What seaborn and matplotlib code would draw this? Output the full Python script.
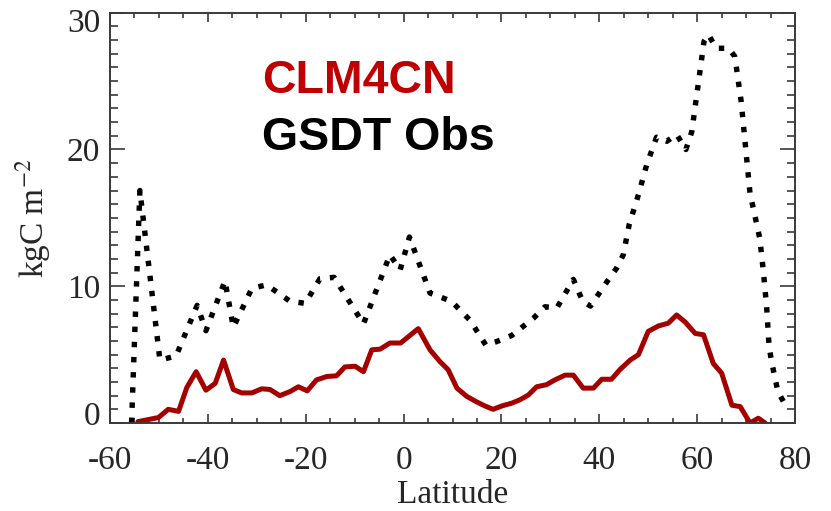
import matplotlib
matplotlib.use("Agg")
import matplotlib.pyplot as plt
import matplotlib.transforms as mtransforms
from matplotlib.ticker import MultipleLocator
import seaborn as sns

# CLM4CN model
model_lat = [-54.3, -52.2, -50.1, -48.1, -46.0, -44.3, -42.4, -40.4, -38.5, -36.8, -34.8,
             -33.1, -31.0, -29.0, -27.3, -25.3, -23.2, -21.5, -19.7, -17.8, -15.7, -13.7,
             -12.0, -9.9, -8.2, -6.5, -4.8, -2.8, -0.6, 3.0, 5.4, 7.4, 9.1, 10.9, 12.9,
             14.9, 16.6, 18.3, 20.1, 22.1, 23.8, 25.5, 27.2, 29.2, 30.9, 33.0, 34.7, 36.7,
             38.8, 40.5, 42.5, 44.2, 46.3, 48.0, 50.0, 52.1, 54.1, 55.8, 57.5, 59.6, 61.3,
             63.3, 65.0, 67.1, 68.8, 70.8, 72.5, 73.9]
model_val = [0.1, 0.25, 0.4, 1.0, 0.85, 2.6, 3.75, 2.4, 2.9, 4.6, 2.45,
             2.2, 2.2, 2.5, 2.45, 2.0, 2.3, 2.65, 2.35, 3.15, 3.4, 3.45,
             4.1, 4.15, 3.75, 5.35, 5.4, 5.85, 5.85, 6.9, 5.35, 4.5, 3.9, 2.55, 1.95,
             1.55, 1.25, 1.0, 1.25, 1.45, 1.7, 2.05, 2.65, 2.8, 3.15, 3.5, 3.5, 2.55,
             2.55, 3.2, 3.2, 3.9, 4.6, 5.0, 6.7, 7.1, 7.3, 7.9, 7.4, 6.55, 6.45,
             4.35, 3.65, 1.3, 1.2, 0.0, 0.35, 0.0]

# GSDT observations (black dotted curve)
obs_lat = [-55.6, -53.9, -49.8, -46.5, -42.2, -40.4, -36.5, -34.8, -31.0, -28.0, -23.2,
           -20.1, -17.1, -14.2, -8.2, -2.8, -0.7, 1.2, 5.4, 9.8, 13.6, 16.8, 19.0, 22.1,
           26.5, 28.9, 31.3, 34.7, 36.6, 38.2, 40.0, 41.7, 43.5, 44.9, 46.1, 48.0, 49.7,
           51.7, 53.8, 55.8, 57.7, 58.9, 61.4, 62.3, 63.9, 66.4, 67.7, 69.0, 70.8, 72.8,
           73.5, 74.2, 74.7, 75.2, 76.5, 78.5]
obs_val = [0.0, 17.0, 4.6, 4.9, 8.6, 6.75, 10.4, 7.0, 9.85, 10.1, 8.9,
           8.75, 10.55, 10.65, 7.25, 12.3, 11.2, 13.6, 9.5, 8.9, 7.5, 5.7, 5.95, 6.4,
           7.65, 8.5, 8.4, 10.5, 8.9, 8.55, 9.5, 10.4, 11.3, 12.3, 14.5, 16.7, 18.9,
           20.9, 20.6, 21.1, 20.0, 21.3, 27.9, 28.4, 27.4, 27.4, 26.8, 23.5, 16.8, 13.5,
           11.2, 8.5, 5.6, 4.5, 2.3, 1.0]

x_ticks = [-60, -40, -20, 0, 20, 40, 60, 80]
y_ticks = [0, 10, 20, 30]

sns.set_style("ticks")
serif = ["Liberation Serif", "DejaVu Serif"]
sans = ["Liberation Sans", "DejaVu Sans"]
plt.rcParams["mathtext.fontset"] = "stix"
plt.rcParams["axes.unicode_minus"] = False

fig = plt.figure(figsize=(8.31, 5.11), dpi=100)
ax = fig.add_axes([0.1324, 0.1722, 0.8243, 0.8029])

sns.lineplot(x=obs_lat, y=obs_val, ax=ax, color="black", lw=3.9,
             linestyle=(0, (1, 1.8)), sort=False, estimator=None)
sns.lineplot(x=model_lat, y=model_val, ax=ax, color="#a40000", lw=3.6,
             sort=False, estimator=None)

ax.set_xlim(-60, 80)
ax.set_ylim(0, 30)
ax.set_xticks(x_ticks)
ax.set_yticks(y_ticks)
ax.xaxis.set_minor_locator(MultipleLocator(5))
ax.yaxis.set_minor_locator(MultipleLocator(1))

frame = "#3a3a3a"
for s in ax.spines.values():
    s.set_visible(True)
    s.set_color(frame)
    s.set_linewidth(1.4)

ax.tick_params(axis="both", which="both", direction="in", color=frame, width=1.2,
               top=True, right=True)
ax.tick_params(axis="y", which="major", length=11, pad=7)
ax.tick_params(axis="y", which="minor", length=5.5)
ax.tick_params(axis="x", which="major", length=6.5, pad=16)
ax.tick_params(axis="x", which="minor", length=3.3)

for lab in ax.get_xticklabels() + ax.get_yticklabels():
    lab.set_fontfamily(serif)
    lab.set_fontsize(24)

# nudge the end labels of the y axis inward, as in the original
ylabs = ax.get_yticklabels()
ylabs[0].set_transform(ylabs[0].get_transform() +
                       mtransforms.ScaledTranslation(0, 10 / 100, fig.dpi_scale_trans))
ylabs[-1].set_transform(ylabs[-1].get_transform() +
                        mtransforms.ScaledTranslation(0, -8 / 100, fig.dpi_scale_trans))

ax.set_xlabel("Latitude", fontfamily=serif, fontsize=24, labelpad=3)
ax.set_ylabel(r"kgC m$^{\mathrm{-2}}$", fontfamily=serif, fontsize=24, labelpad=10)

ax.text(0.222, 0.804, "CLM4CN", transform=ax.transAxes, fontfamily=sans,
        fontweight="bold", fontsize=33.5, color="#c00000", va="baseline")
ax.text(0.222, 0.665, "GSDT Obs", transform=ax.transAxes, fontfamily=sans,
        fontweight="bold", fontsize=33.5, color="black", va="baseline")

fig.savefig("out.png", dpi=100)
